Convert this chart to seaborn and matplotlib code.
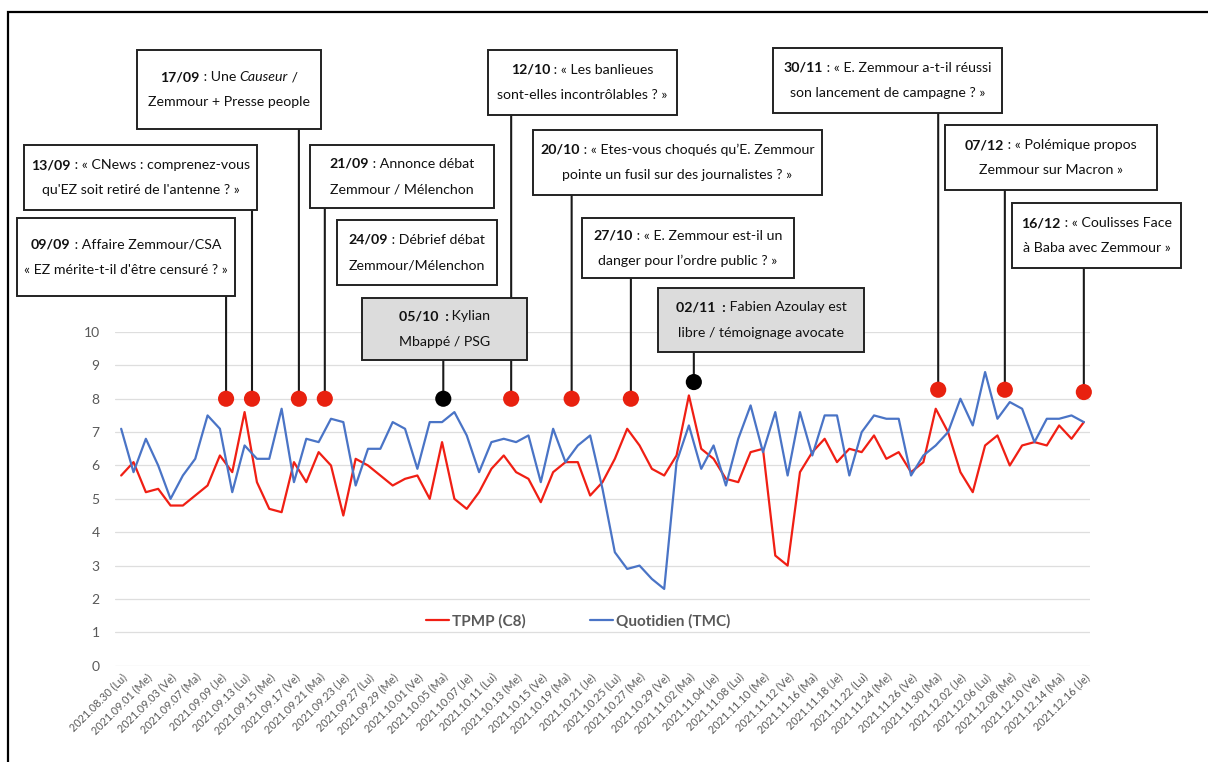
import numpy as np
import pandas as pd
import matplotlib
matplotlib.use("Agg")
import matplotlib.pyplot as plt
import seaborn as sns
from matplotlib.patches import Rectangle
from matplotlib.transforms import blended_transform_factory

# audiences (millions) par jour de diffusion
tpmp = [5.7, 6.1, 5.2, 5.3, 4.8, 4.8, 5.1, 5.4, 6.3, 5.8, 7.6, 5.5, 4.7, 4.6, 6.1, 5.5, 6.4, 6.0, 4.5, 6.2, 6.0, 5.7, 5.4,
        5.6, 5.7, 5.0, 6.7, 5.0, 4.7, 5.2, 5.9, 6.3, 5.8, 5.6, 4.9, 5.8, 6.1, 6.1, 5.1, 5.5, 6.2, 7.1, 6.6, 5.9, 5.7, 6.3, 8.1,
        6.5, 6.2, 5.6, 5.5, 6.4, 6.5, 3.3, 3.0, 5.8, 6.4, 6.8, 6.1, 6.5, 6.4, 6.9, 6.2, 6.4, 5.8, 6.1, 7.7, 7.0, 5.8, 5.2,
        6.6, 6.9, 6.0, 6.6, 6.7, 6.6, 7.2, 6.8, 7.3]
quotidien = [7.1, 5.8, 6.8, 6.0, 5.0, 5.7, 6.2, 7.5, 7.1, 5.2, 6.6, 6.2, 6.2, 7.7, 5.5, 6.8, 6.7, 7.4, 7.3, 5.4, 6.5, 6.5, 7.3,
             7.1, 5.9, 7.3, 7.3, 7.6, 6.9, 5.8, 6.7, 6.8, 6.7, 6.9, 5.5, 7.1, 6.1, 6.6, 6.9, 5.3, 3.4, 2.9, 3.0, 2.6, 2.3, 6.1, 7.2,
             5.9, 6.6, 5.4, 6.8, 7.8, 6.4, 7.6, 5.7, 7.6, 6.3, 7.5, 7.5, 5.7, 7.0, 7.5, 7.4, 7.4, 5.7, 6.3, 6.6, 7.0, 8.0, 7.2,
             8.8, 7.4, 7.9, 7.7, 6.7, 7.4, 7.4, 7.5, 7.3]

tick_labels = ["2021.08.30 (Lu)", "2021.09.01 (Me)", "2021.09.03 (Ve)", "2021.09.07 (Ma)", "2021.09.09 (Je)",
               "2021.09.13 (Lu)", "2021.09.15 (Me)", "2021.09.17 (Ve)", "2021.09.21 (Ma)", "2021.09.23 (Je)",
               "2021.09.27 (Lu)", "2021.09.29 (Me)", "2021.10.01 (Ve)", "2021.10.05 (Ma)", "2021.10.07 (Je)",
               "2021.10.11 (Lu)", "2021.10.13 (Me)", "2021.10.15 (Ve)", "2021.10.19 (Ma)", "2021.10.21 (Je)",
               "2021.10.25 (Lu)", "2021.10.27 (Me)", "2021.10.29 (Ve)", "2021.11.02 (Ma)", "2021.11.04 (Je)",
               "2021.11.08 (Lu)", "2021.11.10 (Me)", "2021.11.12 (Ve)", "2021.11.16 (Ma)", "2021.11.18 (Je)",
               "2021.11.22 (Lu)", "2021.11.24 (Me)", "2021.11.26 (Ve)", "2021.11.30 (Ma)", "2021.12.02 (Je)",
               "2021.12.06 (Lu)", "2021.12.08 (Me)", "2021.12.10 (Ve)", "2021.12.14 (Ma)", "2021.12.16 (Je)"]

# événements : position (jour), niveau du point, couleur
event_pos = [8.5, 10.6, 14.4, 16.5, 26.1, 31.6, 36.5, 41.3, 46.4, 66.2, 71.6, 78.0]
event_level = [8.0, 8.0, 8.0, 8.0, 8.0, 8.0, 8.0, 8.0, 8.5, 8.27, 8.27, 8.2]
event_black = [False, False, False, False, True, False, False, False, True, False, False, False]

# textes des encadrés (ligne 1 en morceaux : texte, gras, italique)
box_line1 = [
    [("09/09", True, False), (" : Affaire Zemmour/CSA", False, False)],
    [("13/09", True, False), (" : « CNews : comprenez-vous", False, False)],
    [("17/09", True, False), (" : Une ", False, False), ("Causeur", False, True), (" /", False, False)],
    [("21/09", True, False), (" : Annonce débat", False, False)],
    [("05/10  :", True, False), (" Kylian", False, False)],
    [("12/10", True, False), (" : « Les banlieues", False, False)],
    [("20/10", True, False), (" : « Etes-vous choqués qu’E. Zemmour", False, False)],
    [("27/10", True, False), (" : « E. Zemmour est-il un", False, False)],
    [("02/11  :", True, False), (" Fabien Azoulay est", False, False)],
    [("30/11", True, False), (" : « E. Zemmour a-t-il réussi", False, False)],
    [("07/12", True, False), (" : « Polémique propos", False, False)],
    [("16/12", True, False), (" : « Coulisses Face", False, False)],
    [("24/09", True, False), (" : Débrief débat", False, False)],
]
box_line2 = ["« EZ mérite-t-il d'être censuré ? »", "qu'EZ soit retiré de l'antenne ? »",
             "Zemmour + Presse people", "Zemmour / Mélenchon", "Mbappé / PSG",
             "sont-elles incontrôlables ? »", "pointe un fusil sur des journalistes ? »",
             "danger pour l’ordre public ? »", "libre / témoignage avocate",
             "son lancement de campagne ? »", "Zemmour sur Macron »", "à Baba avec Zemmour »",
             "Zemmour/Mélenchon"]

# mise en page des encadrés en pixels (x0, y0, x1, y1), origine en haut à gauche
box_px = [(17, 218, 235, 296), (24, 145, 257, 210), (137, 50, 321, 129), (310, 145, 494, 208),
          (362, 298, 527, 360), (488, 50, 677, 115), (533, 130, 822, 195), (582, 218, 794, 278),
          (658, 288, 864, 352), (773, 48, 1002, 113), (945, 125, 1157, 190), (1012, 203, 1181, 268),
          (337, 220, 497, 285)]

W, H = 1208, 762
RED = "#f01f14"
BLUE = "#4a74c6"
GREY_TXT = "#595959"
BOX_FONT = ["Lato", "DejaVu Sans"]
BOX_SIZE = 10.2
AX_FONT = ["Lato", "DejaVu Sans"]

sns.set_style("white")
plt.rcParams["font.family"] = AX_FONT

df = pd.DataFrame({
    "jour": np.tile(np.arange(len(tpmp)), 2),
    "audience": tpmp + quotidien,
    "emission": ["TPMP (C8)"] * len(tpmp) + ["Quotidien (TMC)"] * len(quotidien),
})

fig = plt.figure(figsize=(W / 100, H / 100), dpi=100)
ax = fig.add_axes([115 / W, 1 - 665.7 / H, (1090 - 115) / W, (665.7 - 332) / H])

sns.lineplot(data=df, x="jour", y="audience", hue="emission",
             palette={"TPMP (C8)": RED, "Quotidien (TMC)": BLUE},
             linewidth=1.6, ax=ax, zorder=3)

ax.set_xlim(-0.5, len(tpmp) - 0.5)
ax.set_ylim(0, 10)
ax.set_yticks(range(0, 11))
ax.yaxis.grid(True, color="#dedede", linewidth=0.9)
ax.xaxis.grid(False)
for s in ax.spines.values():
    s.set_visible(False)
ax.set_xlabel("")
ax.set_ylabel("")
ax.set_xticks(np.arange(0, len(tpmp), 2))
ax.set_xticklabels(tick_labels, rotation=45, ha="right", rotation_mode="anchor",
                   fontsize=7.8, color=GREY_TXT)
ax.tick_params(axis="x", length=0, pad=4)
ax.tick_params(axis="y", length=0, pad=11, labelsize=10, labelcolor=GREY_TXT)

# légende
handles, labels = ax.get_legend_handles_labels()
leg = ax.legend(handles, labels, loc="center", bbox_to_anchor=(0.475, 0.134), ncol=2,
                frameon=False, handlelength=1.5, handletextpad=0.2, columnspacing=4.2,
                prop={"family": AX_FONT, "weight": "bold", "size": 11})
for t in leg.get_texts():
    t.set_color(GREY_TXT)

# points et traits des événements
blend = blended_transform_factory(ax.transData, fig.transFigure)
for i, (x, y) in enumerate(zip(event_pos, event_level)):
    x0, y0, x1, y1 = box_px[i]
    ax.annotate("", xy=(x, y), xycoords="data", xytext=(x, 1 - y1 / H), textcoords=blend,
                arrowprops=dict(arrowstyle="-", color="#1a1a1a", lw=1.5, shrinkA=0, shrinkB=0),
                annotation_clip=False, zorder=4)
ax.scatter(event_pos, event_level, s=135,
           c=["black" if b else "#e8210f" for b in event_black],
           zorder=5, clip_on=False, linewidths=0)

# encadrés
renderer = fig.canvas.get_renderer()


def text_width(s, **kw):
    t = fig.text(0, 0, s + "|", **kw)
    b = fig.text(0, 0, "|", **kw)
    w = t.get_window_extent(renderer).width - b.get_window_extent(renderer).width
    t.remove()
    b.remove()
    return w


def part_kw(b, it):
    return dict(family=BOX_FONT, fontsize=BOX_SIZE, fontweight="bold" if b else "normal",
                fontstyle="italic" if it else "normal", color="#111111")


for k, (x0, y0, x1, y1) in enumerate(box_px):
    gray = k in (4, 8)
    fig.add_artist(Rectangle((x0 / W, 1 - y1 / H), (x1 - x0) / W, (y1 - y0) / H,
                             transform=fig.transFigure, facecolor="#dcdcdc" if gray else "white",
                             edgecolor="#222222", linewidth=1.4, zorder=6))
    xc = (x0 + x1) / 2
    yc = (y0 + y1) / 2
    parts = box_line1[k]
    kws = [part_kw(b, it) for _, b, it in parts]
    widths = [text_width(s, **kw) for (s, _, _), kw in zip(parts, kws)]
    xx = xc - sum(widths) / 2
    for (s, _, _), kw, w in zip(parts, kws, widths):
        fig.text(xx / W, 1 - (yc - 12.5) / H, s, ha="left", va="center", zorder=7, **kw)
        xx += w
    fig.text(xc / W, 1 - (yc + 12.5) / H, box_line2[k], ha="center", va="center",
             zorder=7, **part_kw(False, False))

# cadre extérieur
fig.add_artist(Rectangle((8 / W, -0.05), 1.1, 1.05 - 12 / H, transform=fig.transFigure,
                         fill=False, edgecolor="black", linewidth=1.6, zorder=8))

fig.savefig("out.png", dpi=100)
